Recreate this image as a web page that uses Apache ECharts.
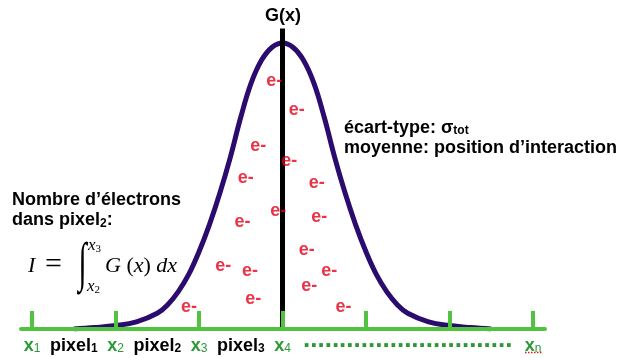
<!DOCTYPE html>
<html><head><meta charset="utf-8">
<script src="https://cdn.jsdelivr.net/npm/echarts@6/dist/echarts.min.js"></script>
<style>html,body{margin:0;padding:0;background:#fff}#c{width:618px;height:358px}</style>
</head><body><div id="c"></div>
<script>
// pixel boundaries x1..xn on the axis
const tickPositions = [1, 2, 3, 4, 5, 6, 7];
// axis labels: position, main text, subscript
const labelPositions = [1, 1.5, 2, 2.5, 3, 3.5, 4, 5.5, 7];
const labelMain = ['x', 'pixel', 'x', 'pixel', 'x', 'pixel', 'x', '.', 'x'];
const labelSub  = ['1', '1', '2', '2', '3', '3', '4', '', 'n'];
// G(x) curve (peak normalised to 1)
const curveX = [1.5, 1.75, 2, 2.25, 2.5, 2.625, 2.75, 2.875, 3, 3.125, 3.25, 3.375, 3.5, 3.625, 3.75, 3.875, 4,
                4.125, 4.25, 4.375, 4.5, 4.625, 4.75, 4.875, 5, 5.125, 5.25, 5.375, 5.5, 5.75, 6, 6.25, 6.5];
const curveY = [0, 0.005, 0.012, 0.025, 0.055, 0.085, 0.13, 0.19, 0.27, 0.365, 0.475, 0.60, 0.74, 0.86, 0.94, 0.985, 1.0,
                0.985, 0.94, 0.86, 0.74, 0.60, 0.475, 0.365, 0.27, 0.19, 0.13, 0.085, 0.055, 0.025, 0.012, 0.005, 0];
// mean (interaction position) marker
const meanX = 4;
const meanTop = 1.05;
// electrons "e-"
const electronX = [3.90, 4.17, 3.71, 4.08, 3.56, 4.41, 3.95, 4.44, 3.52, 4.29, 3.29, 3.61, 4.56, 4.32, 3.65, 2.88, 4.73];
const electronY = [0.867, 0.766, 0.640, 0.587, 0.528, 0.510, 0.413, 0.392, 0.374, 0.276, 0.220, 0.203, 0.203, 0.150, 0.105, 0.077, 0.077];

const green = '#50c43f', greenText = '#2a9a37', red = '#e2001a', purple = '#2c0b6f';
const SANS = '"Liberation Sans", Arial, Helvetica, sans-serif';
const SERIF = '"Liberation Serif", "Times New Roman", serif';

const chart = echarts.init(document.getElementById('c'), null, {renderer: 'canvas'});
chart.setOption({
  animation: false,
  backgroundColor: '#fff',
  grid: {left: 21, right: 73, top: 0, bottom: 29},
  xAxis: {
    type: 'value', min: 0.868, max: 7.144, z: 10,
    splitLine: {show: false},
    axisLine: {show: true, onZero: false, lineStyle: {color: green, width: 4}},
    axisTick: {show: true, inside: true, length: 18, customValues: tickPositions,
      lineStyle: {color: green, width: 4}},
    axisLabel: {
      show: true, customValues: labelPositions, margin: 26, verticalAlign: 'bottom',
      formatter: function (v) {
        const i = labelPositions.findIndex(p => Math.abs(p - v) < 1e-6);
        if (i < 0) return '';
        if (labelMain[i] === '.') return '{d|' + '.'.repeat(29) + '}';
        if (labelMain[i] === 'x') return '{x|x}{xs|' + labelSub[i] + '}';
        return '{p|' + labelMain[i] + '}{ps|' + labelSub[i] + '}';
      },
      rich: {
        x: {fontFamily: SANS, fontWeight: 'bold', fontSize: 18, color: greenText},
        xs: {fontFamily: SANS, fontSize: 12, color: greenText, verticalAlign: 'bottom'},
        p: {fontFamily: SANS, fontWeight: 'bold', fontSize: 18, color: '#000'},
        ps: {fontFamily: SANS, fontWeight: 'bold', fontSize: 12, color: '#000', verticalAlign: 'bottom'},
        d: {fontFamily: SANS, fontWeight: 'bold', fontSize: 26, lineHeight: 26, color: greenText, padding: [0, 0, 5, 0]}
      }
    }
  },
  yAxis: {type: 'value', min: 0, max: 1.15, show: false},
  series: [
    {type: 'line', name: 'G(x)', data: curveX.map((x, i) => [x, curveY[i]]), smooth: 0.4,
      symbol: 'none', z: 2, lineStyle: {color: purple, width: 5}, silent: true},
    {type: 'line', name: 'moyenne', data: [[meanX, 0], [meanX, meanTop]], symbol: 'none', z: 3,
      lineStyle: {color: '#000', width: 5}, silent: true},
    {type: 'scatter', name: 'e-', data: electronX.map((x, i) => [x, electronY[i]]), z: 4,
      symbol: 'circle', symbolSize: 1, itemStyle: {color: 'rgba(0,0,0,0)'}, silent: true,
      label: {show: true, position: 'inside', formatter: 'e-', color: red,
        fontFamily: SANS, fontWeight: 'bold', fontSize: 18}}
  ],
  graphic: [
    {type: 'text', x: 283, y: 16, style: {text: 'G(x)', fontFamily: SANS, fontWeight: 'bold', fontSize: 18,
      fill: '#000', align: 'center', verticalAlign: 'middle'}},
    {type: 'text', x: 344, y: 127.8, style: {text: '{b|écart-type: σ}{s|tot}', align: 'left', verticalAlign: 'middle',
      rich: {b: {fontFamily: SANS, fontWeight: 'bold', fontSize: 18, fill: '#000'},
             s: {fontFamily: SANS, fontWeight: 'bold', fontSize: 12, fill: '#000', verticalAlign: 'bottom'}}}},
    {type: 'text', x: 344, y: 148, style: {text: 'moyenne: position d’interaction', fontFamily: SANS, fontWeight: 'bold',
      fontSize: 18, fill: '#000', align: 'left', verticalAlign: 'middle'}},
    {type: 'text', x: 12, y: 199.8, style: {text: 'Nombre d’électrons', fontFamily: SANS, fontWeight: 'bold',
      fontSize: 18, fill: '#000', align: 'left', verticalAlign: 'middle'}},
    {type: 'text', x: 12, y: 220.5, style: {text: '{b|dans pixel}{s|2}{b|:}', align: 'left', verticalAlign: 'middle',
      rich: {b: {fontFamily: SANS, fontWeight: 'bold', fontSize: 18, fill: '#000'},
             s: {fontFamily: SANS, fontWeight: 'bold', fontSize: 12, fill: '#000', verticalAlign: 'bottom'}}}},
    // formula I = ∫_{x2}^{x3} G(x) dx
    {type: 'text', x: 28, y: 266.5, style: {text: 'I', fontFamily: SERIF, fontStyle: 'italic', fontSize: 22,
      fill: '#000', align: 'left', verticalAlign: 'middle'}},
    {type: 'text', x: 53.5, y: 265, style: {text: '=', fontFamily: SERIF, fontSize: 30,
      fill: '#000', align: 'center', verticalAlign: 'middle'}},
    {type: 'text', x: 82.5, y: 266, originX: 0, originY: 0, scaleY: 1.8,
      style: {text: '∫', fontFamily: SERIF, fontSize: 30, fill: '#000', align: 'center', verticalAlign: 'middle'}},
    {type: 'text', x: 88, y: 246, style: {text: '{i|x}{n|3}', align: 'left', verticalAlign: 'middle',
      rich: {i: {fontFamily: SERIF, fontStyle: 'italic', fontSize: 17, fill: '#000'},
             n: {fontFamily: SERIF, fontSize: 11, fill: '#000', verticalAlign: 'bottom'}}}},
    {type: 'text', x: 87, y: 287, style: {text: '{i|x}{n|2}', align: 'left', verticalAlign: 'middle',
      rich: {i: {fontFamily: SERIF, fontStyle: 'italic', fontSize: 17, fill: '#000'},
             n: {fontFamily: SERIF, fontSize: 11, fill: '#000', verticalAlign: 'bottom'}}}},
    {type: 'text', x: 105, y: 266.5, style: {text: '{i|G}{r| (}{i|x}{r|)}{i| dx}', align: 'left', verticalAlign: 'middle',
      rich: {i: {fontFamily: SERIF, fontStyle: 'italic', fontSize: 22, fill: '#000'},
             r: {fontFamily: SERIF, fontSize: 22, fill: '#000'}}}},
    // spell-check underline under x_n
    {type: 'line', shape: {x1: 525, y1: 352.5, x2: 543, y2: 352.5},
      style: {stroke: '#e0201a', lineWidth: 1.5, lineDash: [1.5, 1.5]}}
  ]
});
</script></body></html>
